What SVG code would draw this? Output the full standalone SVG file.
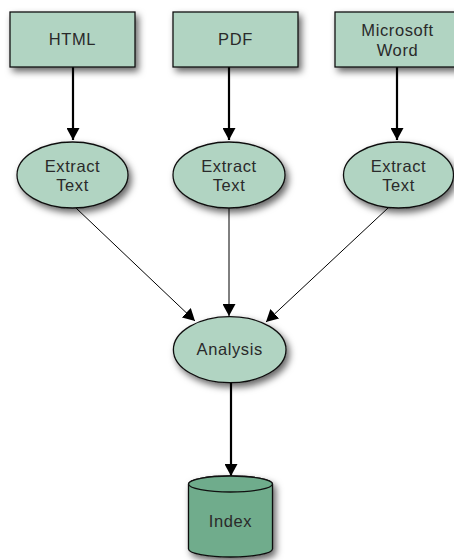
<svg xmlns="http://www.w3.org/2000/svg" width="454" height="560" viewBox="0 0 454 560">
<style>
.n{fill:#b1d4c2;stroke:#111;stroke-width:1.3}
.db{fill:#6fac8c;stroke:#111;stroke-width:1.3}
.t{font-family:"Liberation Sans",Arial,sans-serif;font-size:16.5px;letter-spacing:0.6px;fill:#2a2a2a;text-anchor:middle}
.thick{stroke:#000;stroke-width:2.2;fill:none}
.thin{stroke:#000;stroke-width:1;fill:none}
</style>
<defs>
<filter id="sh" x="-30%" y="-30%" width="170%" height="180%">
<feDropShadow dx="3" dy="4" stdDeviation="3.5" flood-color="#000" flood-opacity="0.6"/>
</filter>
<marker id="ah" viewBox="0 0 12 13" refX="12" refY="6.5" markerWidth="12" markerHeight="13" markerUnits="userSpaceOnUse" orient="auto">
<path d="M0,0 L12,6.5 L0,13 Z" fill="#000"/>
</marker>
</defs>
<g id="connectors">
<line class="thick" x1="73" y1="67" x2="73" y2="140" marker-end="url(#ah)"/>
<line class="thick" x1="229" y1="67" x2="229" y2="140" marker-end="url(#ah)"/>
<line class="thick" x1="397" y1="67" x2="397" y2="140" marker-end="url(#ah)"/>
<line class="thin" x1="76" y1="208" x2="195" y2="321" marker-end="url(#ah)"/>
<line class="thin" x1="229" y1="208" x2="229" y2="316" marker-end="url(#ah)"/>
<line class="thin" x1="388" y1="208" x2="266" y2="322" marker-end="url(#ah)"/>
<line class="thick" x1="231" y1="383" x2="231" y2="476" marker-end="url(#ah)"/>
</g>
<g id="html">
<rect class="n" x="10" y="12" width="125" height="55" filter="url(#sh)"/>
<text class="t" x="72.5" y="45">HTML</text>
</g>
<g id="pdf">
<rect class="n" x="173" y="12" width="125" height="55" filter="url(#sh)"/>
<text class="t" x="235.5" y="45">PDF</text>
</g>
<g id="word">
<rect class="n" x="335" y="12" width="125" height="55" filter="url(#sh)"/>
<text class="t" x="397.5" y="36">Microsoft</text>
<text class="t" x="397.5" y="56">Word</text>
</g>
<g id="extract1">
<ellipse class="n" cx="72.5" cy="175" rx="55.5" ry="33" filter="url(#sh)"/>
<text class="t" x="72.5" y="172">Extract</text>
<text class="t" x="72.5" y="191">Text</text>
</g>
<g id="extract2">
<ellipse class="n" cx="229" cy="175" rx="56" ry="33" filter="url(#sh)"/>
<text class="t" x="229" y="172">Extract</text>
<text class="t" x="229" y="191">Text</text>
</g>
<g id="extract3">
<ellipse class="n" cx="398.5" cy="175" rx="55" ry="33" filter="url(#sh)"/>
<text class="t" x="398.5" y="172">Extract</text>
<text class="t" x="398.5" y="191">Text</text>
</g>
<g id="analysis">
<ellipse class="n" cx="229.7" cy="349.7" rx="56.3" ry="33" filter="url(#sh)"/>
<text class="t" x="229.7" y="355">Analysis</text>
</g>
<g id="index">
<path class="db" d="M188.5,484 L188.5,549 A42,8 0 0 0 272.5,549 L272.5,484 A42,8 0 0 0 188.5,484 Z" filter="url(#sh)"/>
<ellipse class="db" cx="230.5" cy="484" rx="42" ry="8"/>
<text class="t" x="230.5" y="527">Index</text>
</g>
</svg>
